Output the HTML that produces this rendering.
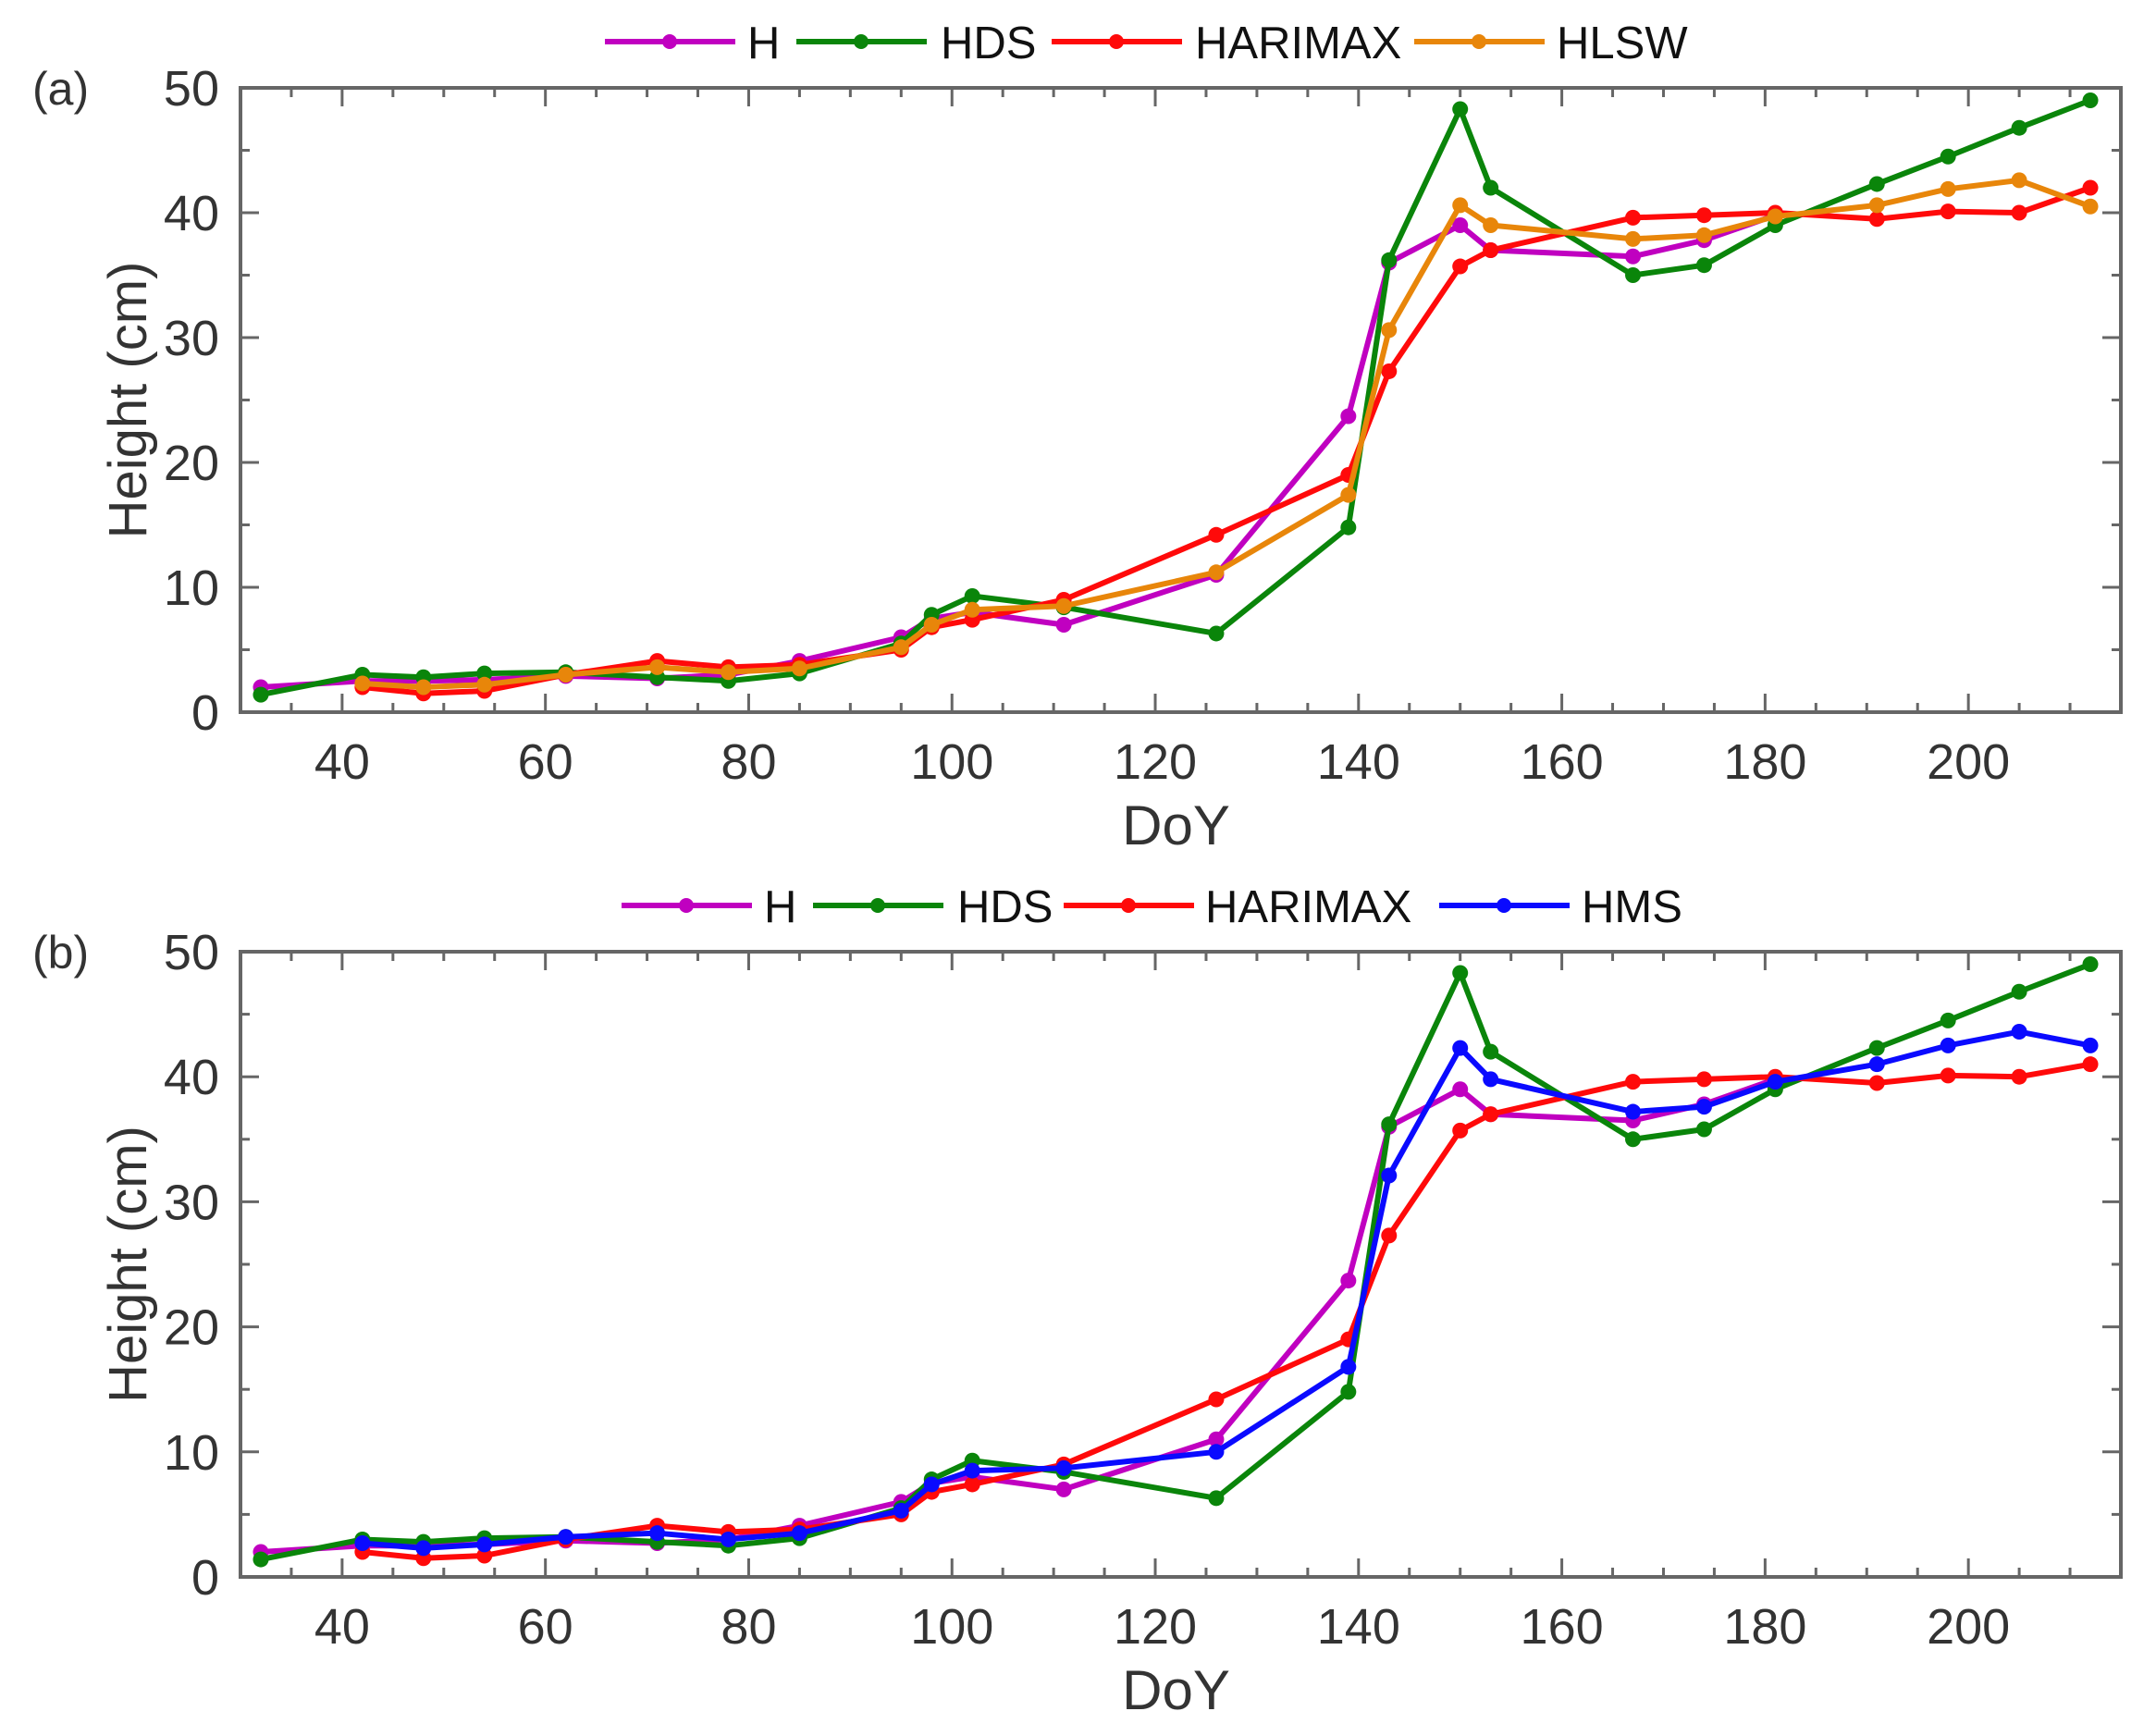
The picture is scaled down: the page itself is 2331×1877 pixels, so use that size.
<!DOCTYPE html>
<html><head><meta charset="utf-8"><style>
html,body{margin:0;padding:0;background:#fff;}
svg{display:block;}
text{font-family:"Liberation Sans",sans-serif;}
</style></head><body>
<svg id="s" xmlns="http://www.w3.org/2000/svg" width="2331" height="1877" viewBox="0 0 2331 1877">
<rect width="2331" height="1877" fill="#fff"/>
</svg>
<script>
const S=document.getElementById('s');const NS='http://www.w3.org/2000/svg';
function el(t,a,txt){const e=document.createElementNS(NS,t);for(const k in a)e.setAttribute(k,a[k]);if(txt!==undefined)e.textContent=txt;S.appendChild(e);return e;}
const L=260,R=2293,X0=30,X1=215;
const X=d=>L+(d-X0)*(R-L)/(X1-X0);
const doy=[32,42,48,54,62,71,78,85,95,98,102,111,126,139,143,150,153,167,174,181,191,198,205,212];
const H=[2.0,2.5,2.5,2.6,2.9,2.7,3.0,4.1,6.0,7.5,8.0,7.0,11.0,23.7,36.0,39.0,37.0,36.5,37.8,39.8];
const HDS=[1.4,3.0,2.8,3.1,3.2,2.8,2.5,3.1,5.5,7.8,9.3,8.4,6.3,14.8,36.2,48.3,42.0,35.0,35.8,39.0,42.3,44.5,46.8,49.0];
const HAR=[null,2.0,1.5,1.7,3.0,4.1,3.6,3.8,5.0,6.8,7.4,9.0,14.2,19.0,27.3,35.7,37.0,39.6,39.8,40.0,39.5,40.1,40.0,42.0];
const HAR2=HAR.slice();HAR2[23]=41.0;
const HLSW=[null,2.3,2.0,2.2,3.0,3.6,3.2,3.5,5.2,7.0,8.2,8.5,11.2,17.4,30.6,40.6,39.0,37.9,38.2,39.7,40.6,41.9,42.6,40.5];
const HMS=[null,2.7,2.3,2.6,3.2,3.5,3.0,3.5,5.3,7.4,8.5,8.7,10.0,16.8,32.1,42.3,39.8,37.2,37.6,39.6,41.0,42.5,43.6,42.5];
const C={H:'#c000c0',HDS:'#0a850a',HAR:'#ff0a0a',HLSW:'#e8860a',HMS:'#0a0aff'};
function panel(T,B,lab,series,legend,legY){
  const Y=v=>B-v*(B-T)/50;
  for(const [vals,col] of series){
    let pts=[];vals.forEach((v,i)=>{if(v!=null)pts.push([X(doy[i]),Y(v)]);});
    el('polyline',{points:pts.map(p=>p.join(',')).join(' '),fill:'none',stroke:col,'stroke-width':6,'stroke-linejoin':'round'});
    pts.forEach(p=>el('circle',{cx:p[0],cy:p[1],r:8.5,fill:col}));
  }
  el('rect',{x:L,y:T,width:R-L,height:B-T,fill:'none',stroke:'#666','stroke-width':4});
  for(let d=35;d<=215;d+=5){const x=X(d);const len=(d%20==0)?20:10;
    el('line',{x1:x,y1:B,x2:x,y2:B-len,stroke:'#666','stroke-width':3});
    el('line',{x1:x,y1:T,x2:x,y2:T+len,stroke:'#666','stroke-width':3});
    if(d%20==0&&d>=40&&d<=200)el('text',{x:x,y:B+72,'font-size':54,fill:'#333','text-anchor':'middle'},d);}
  for(let v=0;v<=50;v+=5){const y=Y(v);const len=(v%10==0)?20:10;
    el('line',{x1:L,y1:y,x2:L+len,y2:y,stroke:'#666','stroke-width':3});
    el('line',{x1:R,y1:y,x2:R-len,y2:y,stroke:'#666','stroke-width':3});
    if(v%10==0)el('text',{x:237,y:y+19,'font-size':54,fill:'#333','text-anchor':'end'},v);}
  el('text',{x:(L+R)/2-5,y:B+143,'font-size':60,fill:'#333','text-anchor':'middle'},'DoY');
  const cy=(T+B)/2;
  el('text',{x:0,y:0,'font-size':58,fill:'#333','text-anchor':'middle',transform:`translate(158,${cy}) rotate(-90)`},'Height (cm)');
  el('text',{x:35,y:T+18,'font-size':50,fill:'#333'},lab);
  for(const [x0,col,name,tx] of legend){
    el('line',{x1:x0,y1:legY,x2:x0+141,y2:legY,stroke:col,'stroke-width':6});
    el('circle',{cx:x0+70,cy:legY,r:8,fill:col});
    el('text',{x:tx,y:legY+18,'font-size':49,fill:'#111'},name);
  }
}
panel(95,770,'(a)',[[H,C.H],[HDS,C.HDS],[HAR,C.HAR],[HLSW,C.HLSW]],
 [[654,C.H,'H',808],[861,C.HDS,'HDS',1017],[1137,C.HAR,'HARIMAX',1292],[1529,C.HLSW,'HLSW',1683]],45);
panel(1029,1705,'(b)',[[H,C.H],[HDS,C.HDS],[HAR2,C.HAR],[HMS,C.HMS]],
 [[672,C.H,'H',826],[879,C.HDS,'HDS',1035],[1150,C.HAR,'HARIMAX',1303],[1556,C.HMS,'HMS',1710]],979);
</script>
</body></html>
